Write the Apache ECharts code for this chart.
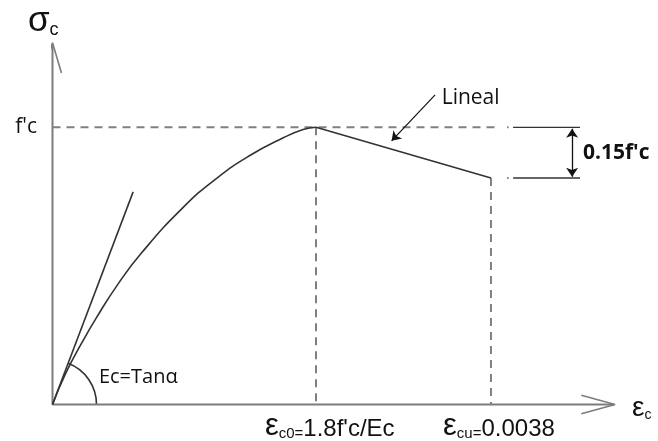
<!DOCTYPE html>
<html><head><meta charset="utf-8">
<script src="https://cdn.jsdelivr.net/npm/echarts@6/dist/echarts.min.js"></script>
<style>html,body{margin:0;padding:0;background:#fff}#c{width:658px;height:441px}</style>
</head><body><div id="c"></div>
<script>
// strain in units of eps_c0, stress in units of f'c
const ascentStrain = [0, 0.05, 0.111, 0.168, 0.244, 0.339, 0.496, 0.623, 0.749, 0.876, 0.951, 1];
const ascentStress = [0, 0.112, 0.222, 0.315, 0.428, 0.548, 0.711, 0.816, 0.898, 0.962, 0.992, 1];
const peakPoint = [1, 1];
const ultimatePoint = [1.664, 0.817];
const tangentEnd = [0.306, 0.767];
const axisTipX = 2.135;
const axisTipY = 1.305;
const yLabel = ['σ', 'c'];
const xLabel = ['ε', 'c'];
const peakLabel = ['ε', 'c0=', "1.8f'c/Ec"];
const ultLabel = ['ε', 'cu=', '0.0038'];
const fcLabel = "f'c";
const dropLabel = "0.15f'c";
const linearLabel = 'Lineal';
const ecLabel = 'Ec=Tanα';

const chart = echarts.init(document.getElementById('c'), null, {renderer: 'canvas'});
const axisColor = '#7c7c7c', dashColor = '#808080', curveColor = '#333';
function seg(data, color, width, type) {
  return {type: 'line', data: data, symbol: 'none', clip: false, silent: true,
    lineStyle: {color: color, width: width, type: type || 'solid'}, z: 2};
}
const dash = [8, 6];
chart.setOption({
  animation: false,
  grid: {left: 52.5, right: 25.8, top: 35.8, bottom: 36.5},
  xAxis: {type: 'value', min: 0, max: 2.2, show: false},
  yAxis: {type: 'value', min: 0, max: 1.33, show: false},
  series: [
    // axes
    seg([[0, 0], [axisTipX - 0.005, 0]], axisColor, 2),
    seg([[0, 0], [0, axisTipY - 0.005]], axisColor, 2),
    seg([[axisTipX - 0.128, 0.033], [axisTipX, 0], [axisTipX - 0.128, -0.033]], axisColor, 1.6),
    seg([[-0.034, axisTipY - 0.109], [0, axisTipY], [0.034, axisTipY - 0.109]], axisColor, 1.6),
    // dashed guides
    seg([[0, peakPoint[1]], [ultimatePoint[0] + 0.018, peakPoint[1]]], dashColor, 2, dash),
    seg([[peakPoint[0], peakPoint[1]], [peakPoint[0], 0]], dashColor, 2, dash),
    seg([[ultimatePoint[0], ultimatePoint[1]], [ultimatePoint[0], 0]], dashColor, 2, dash),
    // dimension extension lines
    seg([[1.725, peakPoint[1]], [1.731, peakPoint[1]]], dashColor, 2),
    seg([[1.725, ultimatePoint[1]], [1.731, ultimatePoint[1]]], dashColor, 2),
    seg([[1.748, peakPoint[1]], [2.002, peakPoint[1]]], '#333', 1.3),
    seg([[1.748, ultimatePoint[1]], [2.002, ultimatePoint[1]]], '#333', 1.3),
    // curve
    {type: 'line', data: ascentStrain.map((e, i) => [e, ascentStress[i]]), smooth: 0.5,
      symbol: 'none', lineStyle: {color: curveColor, width: 1.6}, z: 3},
    seg([peakPoint, ultimatePoint], curveColor, 1.6),
    seg([[0, 0], tangentEnd], curveColor, 1.6),
    // arrows
    {type: 'lines', coordinateSystem: 'cartesian2d', symbol: ['arrow', 'arrow'], symbolSize: 9,
      lineStyle: {color: '#111', width: 1.3, opacity: 1}, z: 4,
      data: [{coords: [[1.972, peakPoint[1] - 0.005], [1.972, ultimatePoint[1] + 0.005]]}]},
    {type: 'lines', coordinateSystem: 'cartesian2d', symbol: ['none', 'arrow'], symbolSize: 9,
      lineStyle: {color: '#111', width: 1.2, opacity: 1}, z: 4,
      data: [{coords: [[1.452, 1.117], [1.287, 0.951]]}]}
  ]
});

function px(p) { return chart.convertToPixel({gridIndex: 0}, p); }
const o = px([0, 0]);
const t = px(tangentEnd);
const ang = Math.atan2(t[1] - o[1], t[0] - o[0]);
const sans = 'Liberation Sans';
function txt(p, text, style) {
  const q = px(p);
  return {type: 'text', x: q[0], y: q[1], silent: true,
    style: Object.assign({text: text, fill: '#111'}, style)};
}
const richEps = {
  e: {fontSize: 31, fontFamily: sans, fill: '#111', lineHeight: 31},
  s: {fontSize: 15, fontFamily: sans, fill: '#111', lineHeight: 15, verticalAlign: 'bottom'},
  m: {fontSize: 24, fontFamily: sans, fill: '#111', lineHeight: 24, verticalAlign: 'bottom'}
};
chart.setOption({
  graphic: [
    {type: 'arc', silent: true, shape: {cx: o[0], cy: o[1], r: 44, startAngle: ang, endAngle: 0, clockwise: true},
      style: {stroke: curveColor, fill: 'none', lineWidth: 1.6}},
    txt([-0.093, 1.383], '{a|' + yLabel[0] + '}{b|' + yLabel[1] + '}', {align: 'left', verticalAlign: 'middle',
      rich: {a: {fontSize: 35, fontFamily: sans, fill: '#111', lineHeight: 35},
             b: {fontSize: 18, fontFamily: sans, fill: '#111', lineHeight: 18, verticalAlign: 'bottom'}}}),
    txt([2.199, -0.013], '{a|' + xLabel[0] + '}{b|' + xLabel[1] + '}', {align: 'left', verticalAlign: 'middle',
      rich: {a: {fontSize: 28, fontFamily: sans, fill: '#111', lineHeight: 28},
             b: {fontSize: 14, fontFamily: sans, fill: '#111', lineHeight: 14, verticalAlign: 'bottom'}}}),
    txt([-0.059, 1], fcLabel, {align: 'right', verticalAlign: 'middle', font: '21px "Open Sans"'}),
    txt([2.013, 0.907], dropLabel, {align: 'left', verticalAlign: 'middle', font: 'bold 21px "Open Sans"'}),
    txt([1.477, 1.106], linearLabel, {align: 'left', verticalAlign: 'middle', font: '21px "Open Sans"'}),
    txt([0.176, 0.099], ecLabel, {align: 'left', verticalAlign: 'middle', font: '20px "Open Sans"'}),
    txt([0.806, -0.078], '{e|' + peakLabel[0] + '}{s|' + peakLabel[1] + '}{m|' + peakLabel[2] + '}',
      {align: 'left', verticalAlign: 'middle', rich: richEps}),
    txt([1.482, -0.078], '{e|' + ultLabel[0] + '}{s|' + ultLabel[1] + '}{m|' + ultLabel[2] + '}',
      {align: 'left', verticalAlign: 'middle', rich: richEps})
  ]
});
</script></body></html>
